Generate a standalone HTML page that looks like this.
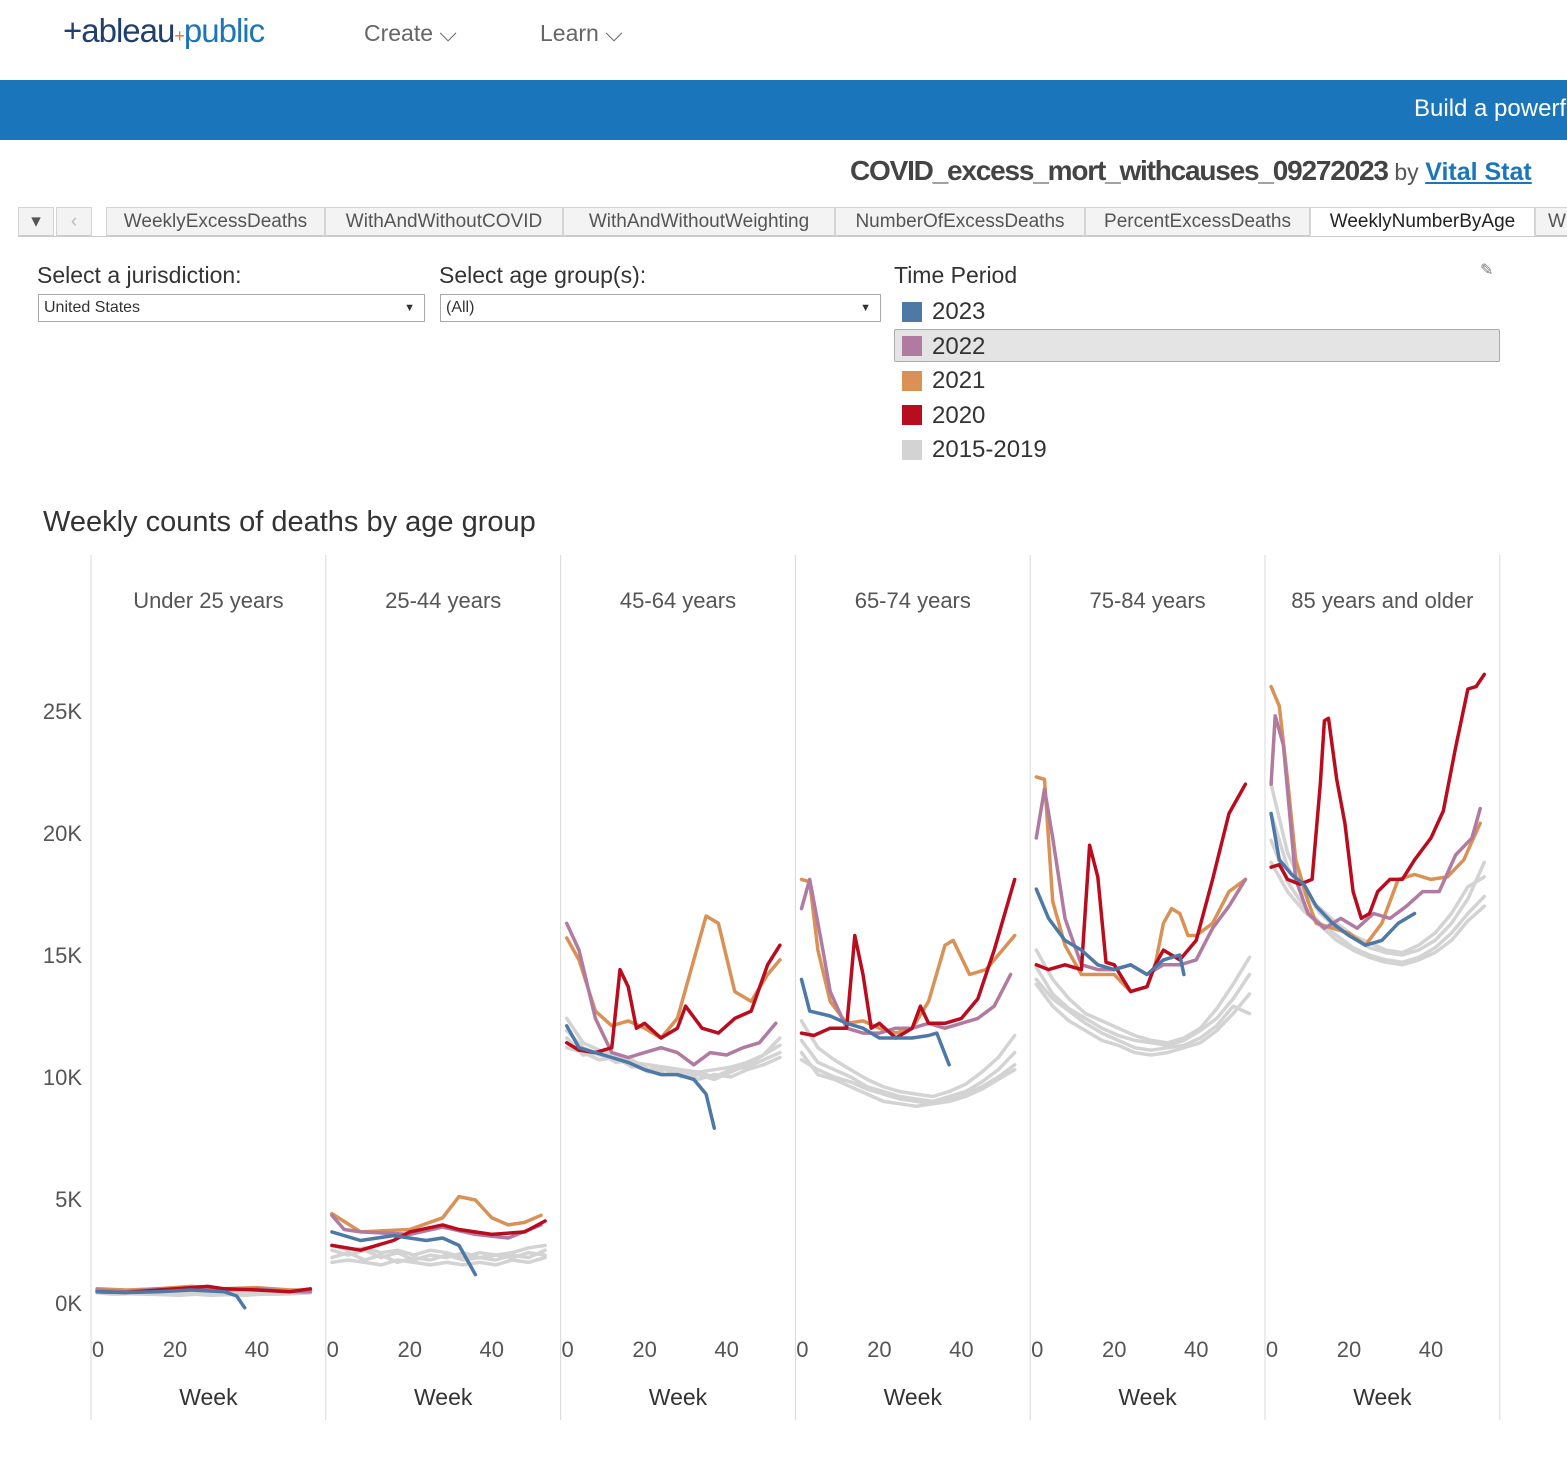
<!DOCTYPE html>
<html><head><meta charset="utf-8"><style>
body{margin:0;width:1567px;height:1473px;overflow:hidden;background:#fff;font-family:"Liberation Sans",sans-serif;position:relative}
.a{position:absolute;white-space:nowrap}
.tab{position:absolute;top:207px;height:29px;border:1px solid #d4d4d4;border-bottom:1px solid #ccc;background:#f3f3f3;color:#555;font-size:19px;line-height:28px;text-align:center;box-sizing:border-box}
.sel{position:absolute;top:294px;height:28px;border:1px solid #aaa;box-sizing:border-box;font-size:16px;line-height:26px;padding-left:5px;color:#333}
.sw{position:absolute;left:902px;width:20px;height:20px}
.lg{position:absolute;left:932px;font-size:24px;color:#333}
</style></head><body>
<div class="a" style="left:63px;top:12px;font-size:33px;color:#1f3f6e;letter-spacing:-1px">+ableau<span style="color:#e8762c;font-size:18px">+</span><span style="color:#1b75bb">public</span></div>
<div class="a" style="left:364px;top:20px;font-size:23px;color:#666">Create ⌵</div>
<div class="a" style="left:540px;top:20px;font-size:23px;color:#666">Learn ⌵</div>
<div class="a" style="left:0;top:80px;width:1567px;height:60px;background:#1b75bb"></div>
<div class="a" style="left:1414px;top:95px;font-size:24px;color:#fff">Build a powerf</div>
<div class="a" style="left:850px;top:155px;font-size:28px;font-weight:bold;color:#444;letter-spacing:-1.2px">COVID_excess_mort_withcauses_09272023 <span style="font-weight:normal;font-size:23px;color:#555;letter-spacing:0">by</span> <span style="color:#1b75bb;text-decoration:underline;letter-spacing:0;font-size:25px">Vital Stat</span></div>
<div class="a" style="left:18px;top:236px;width:1549px;height:1px;background:#ccc"></div>
<div class="tab" style="left:18px;width:36px">▾</div>
<div class="tab" style="left:56px;width:36px;color:#bbb">‹</div>
<div class="tab" style="left:106px;width:219px">WeeklyExcessDeaths</div>
<div class="tab" style="left:325px;width:238px">WithAndWithoutCOVID</div>
<div class="tab" style="left:563px;width:272px">WithAndWithoutWeighting</div>
<div class="tab" style="left:835px;width:250px">NumberOfExcessDeaths</div>
<div class="tab" style="left:1085px;width:225px">PercentExcessDeaths</div>
<div class="tab" style="left:1310px;width:225px;background:#fff;color:#222;border-bottom-color:#fff">WeeklyNumberByAge</div>
<div class="tab" style="left:1535px;width:40px;text-align:left;padding-left:12px">W</div>
<div class="a" style="left:37px;top:262px;font-size:23px;color:#333">Select a jurisdiction:</div>
<div class="sel" style="left:38px;width:387px">United States<span style="position:absolute;right:9px;font-size:11px">▼</span></div>
<div class="a" style="left:439px;top:262px;font-size:23px;color:#333">Select age group(s):</div>
<div class="sel" style="left:440px;width:441px">(All)<span style="position:absolute;right:9px;font-size:11px">▼</span></div>
<div class="a" style="left:894px;top:262px;font-size:23px;color:#333">Time Period</div>
<div class="a" style="left:1480px;top:260px;font-size:16px;color:#777">✎</div>
<div class="a" style="left:894px;top:329px;width:606px;height:33px;background:#e4e4e4;border:1px solid #aaa;box-sizing:border-box;border-radius:2px"></div>
<div class="sw" style="top:302px;background:#4e79a7"></div><div class="lg" style="top:298px">2023</div>
<div class="sw" style="top:336px;background:#b07aa1"></div><div class="lg" style="top:333px">2022</div>
<div class="sw" style="top:371px;background:#d99155"></div><div class="lg" style="top:367px">2021</div>
<div class="sw" style="top:405px;background:#b90d1f"></div><div class="lg" style="top:402px">2020</div>
<div class="sw" style="top:440px;background:#d3d3d3"></div><div class="lg" style="top:436px">2015-2019</div>
<div class="a" style="left:43px;top:506px;font-size:29px;color:#333">Weekly counts of deaths by age group</div>
<svg id="chart" style="position:absolute;left:0;top:0" width="1567" height="1473"></svg>
<script>
const panels=["Under 25 years","25-44 years","45-64 years","65-74 years","75-84 years","85 years and older"];
const yTicks=[0,5,10,15,20,25];
const yTickLabels=["0K","5K","10K","15K","20K","25K"];
const xTicks=[0,20,40];
const seriesNames=["2015-2019","2020","2021","2022","2023"];
const colors={"2015-2019":"#d3d3d3","2020":"#b90d1f","2021":"#d99155","2022":"#b07aa1","2023":"#4e79a7"};
const grayWeeks=[1,5,9,13,17,21,25,29,33,37,41,45,49,53];
// values in thousands of deaths
const gray=[
 [[1.25,1.2,1.15,1.2,1.15,1.1,1.15,1.1,1.15,1.1,1.15,1.2,1.15,1.2],[1.15,1.1,1.12,1.1,1.08,1.05,1.1,1.05,1.08,1.05,1.1,1.1,1.12,1.15],[1.3,1.25,1.2,1.25,1.2,1.2,1.22,1.18,1.2,1.15,1.2,1.22,1.25,1.3],[1.2,1.15,1.18,1.15,1.12,1.15,1.1,1.12,1.1,1.12,1.1,1.15,1.18,1.2]],
 [[2.9,2.7,2.9,2.6,2.8,2.5,2.7,2.6,2.8,2.6,2.7,2.6,2.8,2.7],[2.6,2.8,2.5,2.7,2.4,2.6,2.5,2.7,2.5,2.6,2.5,2.7,2.6,2.9],[3.1,2.9,3.0,2.8,2.9,2.7,2.9,2.8,2.6,2.8,2.7,2.8,3.0,3.1],[2.4,2.5,2.4,2.3,2.5,2.4,2.3,2.4,2.3,2.4,2.3,2.5,2.4,2.6]],
 [[12.4,11.4,11.1,10.9,10.6,10.5,10.4,10.3,10.2,10.3,10.4,10.6,10.9,11.3],[11.6,10.9,11.0,10.6,10.7,10.3,10.4,10.1,10.2,10.0,10.3,10.4,10.7,11.0],[11.2,11.0,10.7,10.8,10.4,10.5,10.1,10.2,9.9,10.1,10.0,10.3,10.5,10.8],[11.9,11.2,10.9,10.7,10.5,10.2,10.3,10.0,10.1,9.9,10.2,10.5,10.9,11.6]],
 [[11.5,10.6,10.3,10.0,9.6,9.4,9.2,9.1,9.0,9.2,9.4,9.8,10.3,11.0],[11.0,10.1,9.9,9.6,9.3,9.0,8.9,8.8,8.9,9.0,9.2,9.5,9.9,10.3],[12.3,11.2,10.7,10.3,9.9,9.6,9.4,9.3,9.2,9.4,9.7,10.2,10.8,11.7],[10.7,10.3,10.0,9.8,9.5,9.3,9.1,9.0,8.9,9.1,9.3,9.6,10.0,10.5]],
 [[14.5,13.4,12.8,12.4,12.0,11.7,11.5,11.4,11.3,11.5,11.9,12.4,13.2,14.2],[13.8,12.9,12.3,11.9,11.5,11.3,11.0,10.9,11.0,11.2,11.4,11.9,12.6,13.4],[15.2,14.0,13.2,12.6,12.3,12.0,11.7,11.5,11.4,11.6,12.0,12.8,13.8,14.9],[14.0,13.2,12.7,12.2,11.8,11.5,11.2,11.1,11.2,11.3,11.6,12.1,12.9,12.6]],
 [[22.0,19.2,17.7,16.7,16.1,15.7,15.3,15.1,15.0,15.2,15.6,16.3,17.3,18.8],[19.7,18.0,17.0,16.3,15.8,15.3,15.0,14.8,14.7,14.9,15.3,15.9,16.7,17.4],[20.8,18.6,17.5,16.9,16.3,15.8,15.5,15.2,15.1,15.4,15.9,16.7,17.8,18.2],[18.8,17.6,16.8,16.2,15.6,15.2,14.9,14.7,14.6,14.8,15.1,15.6,16.4,17.0]]
];
// [week, value] pairs
const s2020=[
 [[1,1.2],[8,1.17],[16,1.27],[24,1.37],[28,1.42],[32,1.32],[40,1.27],[48,1.2],[53,1.32]],
 [[1,3.1],[8,2.9],[16,3.3],[20,3.65],[28,3.94],[32,3.75],[40,3.55],[48,3.65],[53,4.1]],
 [[1,11.4],[4,11.1],[8,11.0],[12,11.2],[14,14.4],[16,13.7],[18,12.0],[20,12.2],[24,11.6],[28,12.0],[30,12.9],[34,12.0],[38,11.8],[42,12.4],[46,12.7],[50,14.6],[53,15.4]],
 [[1,11.8],[4,11.7],[8,12.0],[12,12.0],[14,15.8],[16,14.2],[18,12.0],[20,12.2],[24,11.6],[28,12.0],[30,12.9],[32,12.2],[36,12.2],[40,12.4],[44,13.2],[48,15.2],[53,18.1]],
 [[1,14.6],[4,14.4],[8,14.6],[12,14.4],[14,19.5],[16,18.2],[18,14.7],[20,14.6],[24,13.5],[28,13.7],[30,14.6],[32,15.2],[36,14.8],[40,15.6],[44,18.1],[48,20.8],[52,22.0]],
 [[1,18.6],[3,18.7],[5,18.1],[8,17.9],[11,18.1],[13,22.0],[14,24.6],[15,24.7],[17,22.2],[19,20.4],[21,17.6],[23,16.5],[25,16.7],[27,17.6],[30,18.1],[33,18.1],[36,18.9],[40,19.8],[43,20.9],[46,23.5],[49,25.9],[51,26.0],[53,26.5]]
];
const s2021=[
 [[1,1.32],[8,1.27],[16,1.32],[24,1.42],[32,1.32],[40,1.37],[48,1.27],[53,1.27]],
 [[1,4.4],[8,3.65],[20,3.75],[28,4.23],[32,5.1],[36,4.96],[40,4.23],[44,3.94],[48,4.04],[52,4.33]],
 [[1,15.7],[4,14.8],[8,12.7],[12,12.1],[16,12.3],[20,12.0],[24,11.6],[28,12.4],[32,14.8],[35,16.6],[38,16.3],[42,13.5],[46,13.1],[50,14.2],[53,14.8]],
 [[1,18.1],[3,18.0],[5,15.2],[8,13.1],[12,12.2],[16,12.3],[20,12.0],[24,11.8],[28,12.0],[32,13.1],[36,15.4],[38,15.6],[42,14.2],[46,14.4],[50,15.2],[53,15.8]],
 [[1,22.3],[3,22.2],[5,17.2],[8,15.4],[12,14.2],[16,14.2],[20,14.2],[24,13.5],[28,13.7],[30,14.6],[32,16.3],[34,16.9],[36,16.7],[38,15.8],[40,15.8],[44,16.3],[48,17.6],[52,18.1]],
 [[1,26.0],[3,25.2],[5,22.2],[7,18.9],[10,17.2],[12,16.3],[16,16.1],[20,15.9],[24,15.4],[28,16.3],[32,18.1],[36,18.3],[40,18.1],[44,18.2],[48,18.9],[52,20.4]]
];
const s2022=[
 [[1,1.27],[8,1.2],[16,1.32],[24,1.32],[32,1.27],[40,1.32],[48,1.2],[53,1.2]],
 [[1,4.33],[4,3.75],[8,3.65],[20,3.55],[28,3.85],[36,3.55],[44,3.4],[52,3.94]],
 [[1,16.3],[4,15.2],[8,12.4],[12,11.0],[16,10.8],[20,11.0],[24,11.2],[28,11.0],[32,10.5],[36,11.0],[40,10.9],[44,11.2],[48,11.4],[52,12.2]],
 [[1,16.9],[3,18.1],[6,15.4],[8,13.5],[12,12.0],[16,11.8],[20,11.8],[24,12.0],[28,12.0],[32,12.2],[36,12.0],[40,12.2],[44,12.4],[48,12.9],[52,14.2]],
 [[1,19.8],[3,21.8],[5,19.8],[8,16.5],[12,14.6],[16,14.4],[20,14.4],[24,14.6],[28,14.2],[32,14.6],[36,14.6],[40,14.8],[44,16.1],[48,17.0],[52,18.1]],
 [[1,22.0],[2,24.8],[4,23.6],[7,18.1],[10,16.7],[14,16.1],[18,16.5],[22,16.1],[26,16.7],[30,16.5],[34,17.0],[38,17.6],[42,17.6],[46,19.1],[50,19.8],[52,21.0]]
];
const s2023=[
 [[1,1.2],[8,1.17],[16,1.2],[24,1.27],[32,1.2],[35,1.03],[37,0.54]],
 [[1,3.65],[8,3.3],[16,3.5],[24,3.3],[28,3.4],[32,3.1],[36,1.9]],
 [[1,12.1],[4,11.2],[8,11.0],[12,10.8],[16,10.6],[20,10.3],[24,10.1],[28,10.1],[32,9.9],[35,9.3],[37,7.9]],
 [[1,14.0],[3,12.7],[8,12.5],[12,12.2],[16,12.0],[20,11.6],[24,11.6],[28,11.6],[32,11.7],[34,11.8],[37,10.5]],
 [[1,17.7],[4,16.5],[8,15.6],[12,15.2],[16,14.6],[20,14.4],[24,14.6],[28,14.2],[32,14.8],[36,15.0],[37,14.2]],
 [[1,20.8],[3,18.9],[6,18.3],[9,17.9],[12,17.0],[16,16.3],[20,15.8],[24,15.4],[28,15.6],[32,16.3],[36,16.7]]
];
const svg=document.getElementById('chart');
const NS='http://www.w3.org/2000/svg';
const panelLeft=91,panelW=234.8,y0=1321,pxPerK=24.4,pxPerWeek=4.1;
function yScale(v){return y0-v*pxPerK;}
function xScale(p,w){return panelLeft+p*panelW+2+w*pxPerWeek;}
function mk(tag,attrs){const e=document.createElementNS(NS,tag);for(const k in attrs)e.setAttribute(k,attrs[k]);svg.appendChild(e);return e;}
for(let p=0;p<=panels.length;p++){
 const x=panelLeft+p*panelW;
 const l=mk('line',{x1:x,x2:x,y1:555,y2:1420,stroke:'#d8d8d8','stroke-width':1});
 
 
}
yTicks.forEach((v,i)=>{
 const t=mk('text',{x:82,y:yScale(v)+8-(v===0?18:0),'text-anchor':'end','font-size':22,fill:'#555','font-family':'Liberation Sans, sans-serif'});
 t.textContent=yTickLabels[i];
 
 
});
function line(p,pts,color,name){
 const d=pts.map((q,i)=>(i?'L':'M')+xScale(p,q[0]).toFixed(1)+','+yScale(q[1]).toFixed(1)).join(' ');
 const e=mk('path',{d:d,fill:'none',stroke:color,'stroke-width':3.5,'stroke-linejoin':'round','stroke-linecap':'round'});
 
 
}
panels.forEach((name,p)=>{
 const cx=panelLeft+p*panelW+panelW/2;
 const h=mk('text',{x:cx,y:608,'text-anchor':'middle','font-size':22,fill:'#555','font-family':'Liberation Sans, sans-serif'});
 h.textContent=name;
 
 
 xTicks.forEach(w=>{
  const t=mk('text',{x:xScale(p,w)+(w===0?5:0),y:1357,'text-anchor':'middle','font-size':22,fill:'#555','font-family':'Liberation Sans, sans-serif'});
  t.textContent=w;
  
  
 });
 const wt=mk('text',{x:cx,y:1405,'text-anchor':'middle','font-size':23,fill:'#333','font-family':'Liberation Sans, sans-serif'});
 wt.textContent='Week';
 
 
 gray[p].forEach(vals=>line(p,vals.map((v,i)=>[grayWeeks[i],v]),colors["2015-2019"],'line-2015-2019'));
 line(p,s2021[p],colors["2021"],'line-2021');
 line(p,s2022[p],colors["2022"],'line-2022');
 line(p,s2020[p],colors["2020"],'line-2020');
 line(p,s2023[p],colors["2023"],'line-2023');
});
</script>
</body></html>
